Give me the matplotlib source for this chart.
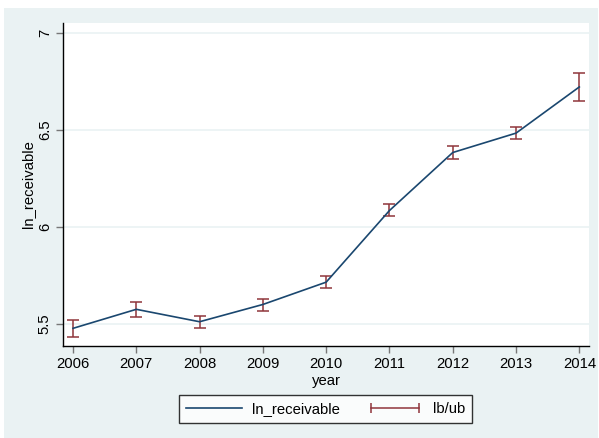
import matplotlib.pyplot as plt
from matplotlib.patches import Rectangle
from matplotlib.lines import Line2D
from matplotlib.legend_handler import HandlerLine2D

plt.rcParams["font.family"] = ["Liberation Sans", "DejaVu Sans"]

years = [2006, 2007, 2008, 2009, 2010, 2011, 2012, 2013, 2014]
ln_receivable = [5.478, 5.576, 5.512, 5.601, 5.716, 6.085, 6.384, 6.484, 6.722]
lb = [5.435, 5.534, 5.481, 5.569, 5.687, 6.057, 6.350, 6.455, 6.650]
ub = [5.522, 5.615, 5.543, 5.627, 5.749, 6.117, 6.416, 6.515, 6.792]
yticks = [5.5, 6, 6.5, 7]

navy = "#1a476f"
maroon = "#90353b"
bg = "#eaf2f3"

W, H = 599, 438
fig = plt.figure(figsize=(W / 100, H / 100), dpi=100, facecolor="white")
# graph region
fig.patches.append(Rectangle((4 / W, 0), (598 - 4) / W, (H - 8) / H,
                             transform=fig.transFigure, facecolor=bg,
                             edgecolor="none", zorder=-5))

ax = fig.add_axes([63 / W, (H - 346) / H, (589 - 63) / W, (346 - 23) / H])
ax.set_facecolor("white")

ax.errorbar(years, ln_receivable,
            yerr=[[m - l for m, l in zip(ln_receivable, lb)],
                  [u - m for m, u in zip(ln_receivable, ub)]],
            fmt="none", ecolor=maroon, elinewidth=1.1, capsize=4,
            capthick=1.1, zorder=2)
ax.plot(years, ln_receivable, color=navy, lw=1.2, zorder=3)

ax.set_xlim(2005.842, 2014.153)
ax.set_ylim(5.387, 7.0515)
ax.set_xticks(years)
ax.set_yticks(yticks)
ax.set_yticklabels(["5.5", "6", "6.5", "7"], rotation=90, va="center")
ax.grid(axis="y", color=bg, lw=1.2)
ax.set_axisbelow(True)

for s in ["top", "right"]:
    ax.spines[s].set_visible(False)
for s in ["left", "bottom"]:
    ax.spines[s].set_color("black")
    ax.spines[s].set_linewidth(1.0)
ax.tick_params(direction="out", length=5, width=1, color="#777777",
               labelsize=10.7, pad=3)

ax.set_xlabel("year", fontsize=10.7, labelpad=2)
ax.set_ylabel("ln_receivable", fontsize=10.7, labelpad=2)

line_handle = Line2D([0], [0], color=navy, lw=1.2)
cap_handle = Line2D([0], [0], color=maroon, lw=1.1, marker="|",
                    markersize=7, markeredgewidth=1.1)
leg = fig.legend([line_handle, cap_handle], ["ln_receivable", "lb/ub"],
                 loc="center", bbox_to_anchor=(325.5 / W, (H - 409) / H),
                 ncol=2, frameon=True, fancybox=False, fontsize=10.7,
                 handlelength=3.8, handletextpad=0.65, columnspacing=1.8,
                 borderpad=0.45, borderaxespad=0,
                 handler_map={cap_handle: HandlerLine2D(numpoints=2)})
leg.get_frame().set_edgecolor("black")
leg.get_frame().set_linewidth(1.0)

fig.savefig("out.png", dpi=100, facecolor="white")
